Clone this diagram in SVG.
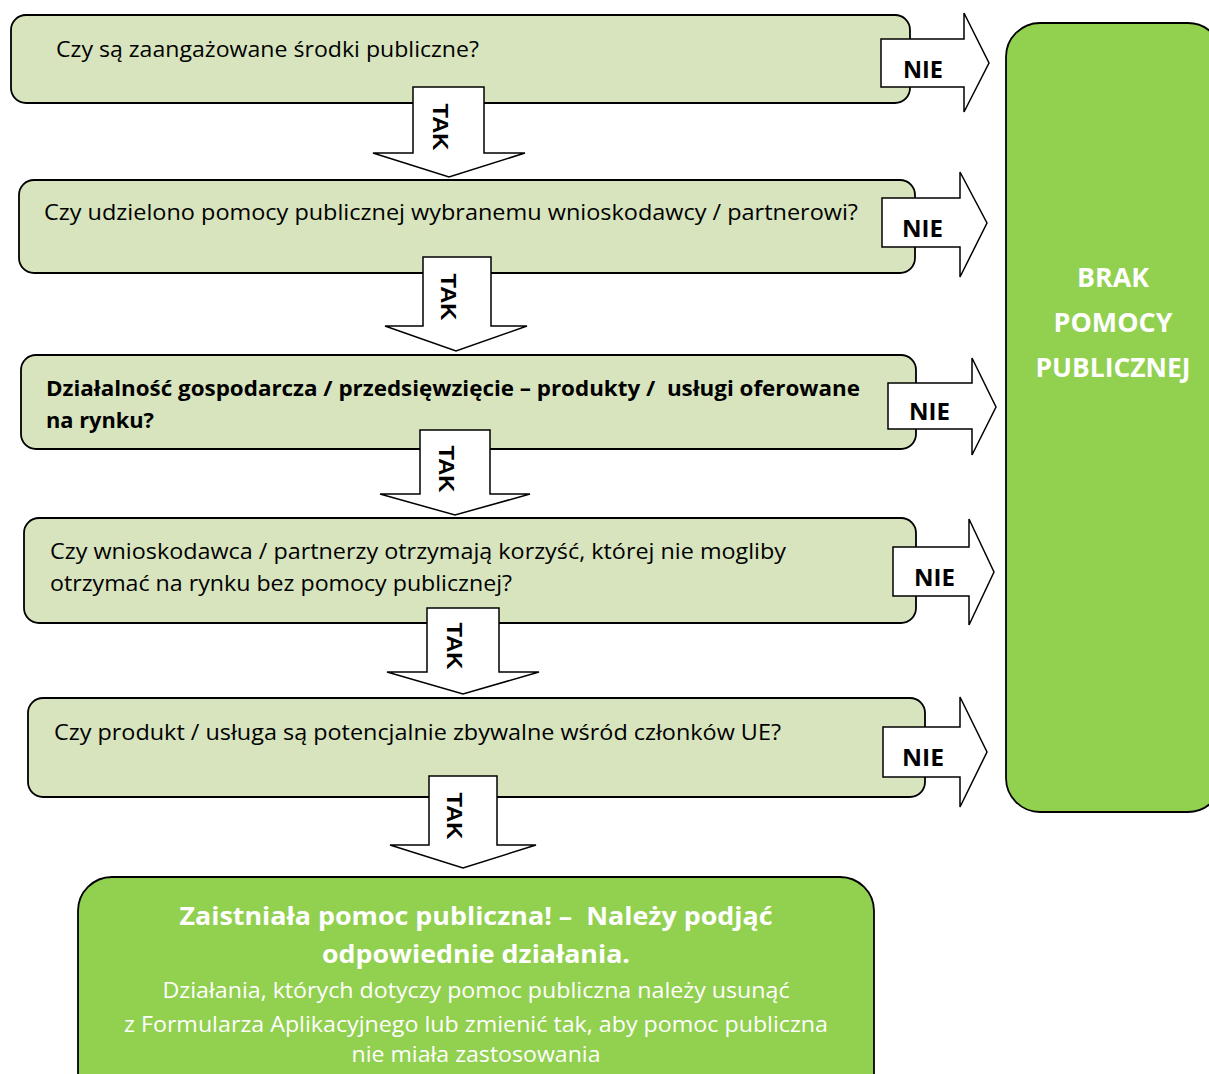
<svg xmlns="http://www.w3.org/2000/svg" width="1209" height="1074" viewBox="0 0 1209 1074">
<style>
.q{fill:#D7E4BD;stroke:#000;stroke-width:1.8}
.g{fill:#92D050;stroke:#000;stroke-width:1.8}
.arr{fill:#fff;stroke:#000;stroke-width:1.5;stroke-linejoin:miter}
.t{font-family:"Open Sans","Liberation Sans",sans-serif;font-size:21px;fill:#000}
.tb{font-family:"Open Sans","Liberation Sans",sans-serif;font-size:21px;font-weight:bold;fill:#000}
.nie{font-family:"Open Sans","Liberation Sans",sans-serif;font-size:23px;font-weight:bold;fill:#000}
.tak{font-family:"Liberation Sans",Arial,sans-serif;font-size:22px;font-weight:bold;fill:#000;text-anchor:middle}
.wb{font-family:"Open Sans","Liberation Sans",sans-serif;font-size:25px;font-weight:bold;fill:#fff;text-anchor:middle}
.w{font-family:"Open Sans","Liberation Sans",sans-serif;font-size:21px;fill:#fff;text-anchor:middle}
.wr{font-family:"Open Sans","Liberation Sans",sans-serif;font-size:26px;font-weight:bold;fill:#fff;text-anchor:middle}
</style>
<rect width="1209" height="1074" fill="#fff"/>
<g id="q1">
<rect class="q" x="11" y="15" width="899" height="88" rx="15"/>
<text class="t" x="56" y="57" textLength="423" lengthAdjust="spacingAndGlyphs">Czy są zaangażowane środki publiczne?</text>
</g>
<g id="q2">
<rect class="q" x="19" y="180" width="896" height="93" rx="15"/>
<text class="t" x="44" y="220" textLength="814" lengthAdjust="spacingAndGlyphs">Czy udzielono pomocy publicznej wybranemu wnioskodawcy / partnerowi?</text>
</g>
<g id="q3">
<rect class="q" x="21" y="355" width="895" height="94" rx="15"/>
<text class="tb" x="46" y="396" textLength="814" lengthAdjust="spacingAndGlyphs" xml:space="preserve">Działalność gospodarcza / przedsięwzięcie – produkty /  usługi oferowane</text>
<text class="tb" x="46" y="428" textLength="108" lengthAdjust="spacingAndGlyphs">na rynku?</text>
</g>
<g id="q4">
<rect class="q" x="24" y="518" width="892" height="105" rx="15"/>
<text class="t" x="50" y="559" textLength="736" lengthAdjust="spacingAndGlyphs">Czy wnioskodawca / partnerzy otrzymają korzyść, której nie mogliby</text>
<text class="t" x="50" y="591" textLength="462" lengthAdjust="spacingAndGlyphs">otrzymać na rynku bez pomocy publicznej?</text>
</g>
<g id="q5">
<rect class="q" x="28" y="698" width="897" height="99" rx="15"/>
<text class="t" x="54" y="740" textLength="727" lengthAdjust="spacingAndGlyphs">Czy produkt / usługa są potencjalnie zbywalne wśród członków UE?</text>
</g>
<g id="brak">
<rect class="g" x="1006" y="23" width="216" height="789" rx="34"/>
<text class="wr" x="1113" y="287" textLength="72" lengthAdjust="spacingAndGlyphs">BRAK</text>
<text class="wr" x="1113" y="332" textLength="119" lengthAdjust="spacingAndGlyphs">POMOCY</text>
<text class="wr" x="1113" y="377" textLength="155" lengthAdjust="spacingAndGlyphs">PUBLICZNEJ</text>
</g>
<g id="wynik">
<rect class="g" x="78" y="877" width="796" height="230" rx="34"/>
<text class="wb" x="476" y="925" textLength="593" lengthAdjust="spacingAndGlyphs" xml:space="preserve">Zaistniała pomoc publiczna! –  Należy podjąć</text>
<text class="wb" x="476" y="963" textLength="308" lengthAdjust="spacingAndGlyphs">odpowiednie działania.</text>
<text class="w" x="476" y="998" textLength="627" lengthAdjust="spacingAndGlyphs">Działania, których dotyczy pomoc publiczna należy usunąć</text>
<text class="w" x="476" y="1032" textLength="704" lengthAdjust="spacingAndGlyphs">z Formularza Aplikacyjnego lub zmienić tak, aby pomoc publiczna</text>
<text class="w" x="476" y="1062" textLength="249" lengthAdjust="spacingAndGlyphs">nie miała zastosowania</text>
</g>
<g id="connectors">
<g id="tak1">
<polygon class="arr" points="413,87 484,87 484,153 525,153 449,177 373,153 413,153"/>
<text class="tak" transform="translate(433,127) rotate(90)" textLength="47" lengthAdjust="spacingAndGlyphs">TAK</text>
</g>
<g id="tak2">
<polygon class="arr" points="423,257 491,257 491,326 527,326 456,351 385,326 423,326"/>
<text class="tak" transform="translate(441,297) rotate(90)" textLength="47" lengthAdjust="spacingAndGlyphs">TAK</text>
</g>
<g id="tak3">
<polygon class="arr" points="420,430 490,430 490,494 530,494 455,515 380,494 420,494"/>
<text class="tak" transform="translate(439,469) rotate(90)" textLength="47" lengthAdjust="spacingAndGlyphs">TAK</text>
</g>
<g id="tak4">
<polygon class="arr" points="427,608 499,608 499,672 539,672 463,694 387,672 427,672"/>
<text class="tak" transform="translate(447,646) rotate(90)" textLength="47" lengthAdjust="spacingAndGlyphs">TAK</text>
</g>
<g id="tak5">
<polygon class="arr" points="429,776 497,776 497,845 536,845 463,868 390,845 429,845"/>
<text class="tak" transform="translate(447,816) rotate(90)" textLength="47" lengthAdjust="spacingAndGlyphs">TAK</text>
</g>
<g id="nie1">
<polygon class="arr" points="881,39 964,39 964,13 989,63 964,112 964,87 881,87"/>
<text class="nie" x="903" y="78" textLength="40" lengthAdjust="spacingAndGlyphs">NIE</text>
</g>
<g id="nie2">
<polygon class="arr" points="882,198 960,198 960,172 987,223 960,277 960,247 882,247"/>
<text class="nie" x="902" y="237" textLength="41" lengthAdjust="spacingAndGlyphs">NIE</text>
</g>
<g id="nie3">
<polygon class="arr" points="888,383 972,383 972,358 996,407 972,455 972,429 888,429"/>
<text class="nie" x="909" y="420" textLength="41" lengthAdjust="spacingAndGlyphs">NIE</text>
</g>
<g id="nie4">
<polygon class="arr" points="893,547 969,547 969,519 994,572 969,625 969,596 893,596"/>
<text class="nie" x="914" y="586" textLength="41" lengthAdjust="spacingAndGlyphs">NIE</text>
</g>
<g id="nie5">
<polygon class="arr" points="883,727 960,727 960,697 987,752 960,807 960,777 883,777"/>
<text class="nie" x="902" y="766" textLength="42" lengthAdjust="spacingAndGlyphs">NIE</text>
</g>
</g>
</svg>
